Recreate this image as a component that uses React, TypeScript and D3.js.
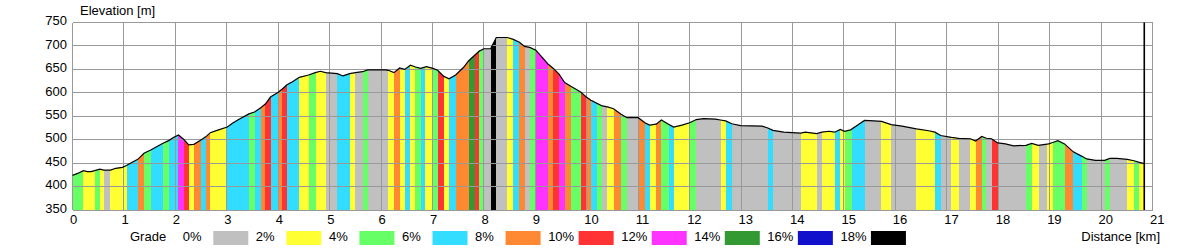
import React from "react";
import * as d3 from "d3";

// Elevation profile (distance in km, elevation in m)
const profileKm = [
  0, 0.1, 0.21, 0.29, 0.36, 0.43, 0.53, 0.61, 0.74, 0.84,
  0.97, 1.05, 1.16, 1.27, 1.39, 1.52, 1.75, 1.87, 1.97, 2.06,
  2.16, 2.26, 2.36, 2.49, 2.59, 2.68, 2.81, 3.01, 3.11, 3.23,
  3.43, 3.54, 3.66, 3.75, 3.85, 4.0, 4.08, 4.17, 4.27, 4.41,
  4.59, 4.72, 4.82, 4.92, 5.15, 5.26, 5.39, 5.5, 5.64, 5.74,
  6.09, 6.14, 6.25, 6.36, 6.46, 6.57, 6.67, 6.77, 6.88, 7.01,
  7.1, 7.22, 7.32, 7.45, 7.61, 7.7, 7.82, 7.91, 8.0, 8.13,
  8.24, 8.45, 8.57, 8.69, 8.79, 8.89, 9.01, 9.24, 9.35, 9.46,
  9.57, 9.69, 9.88, 9.99, 10.08, 10.19, 10.3, 10.4, 10.52, 10.66,
  10.78, 11.0, 11.13, 11.22, 11.35, 11.45, 11.59, 11.69, 11.85, 12.0,
  12.13, 12.27, 12.5, 12.6, 12.7, 12.82, 12.99, 13.41, 13.52, 13.62,
  13.83, 14.16, 14.25, 14.47, 14.57, 14.71, 14.82, 14.93, 15.01, 15.13,
  15.29, 15.4, 15.58, 15.73, 15.92, 16.13, 16.41, 16.65, 16.77, 16.88,
  17.09, 17.23, 17.46, 17.56, 17.68, 17.77, 17.87, 17.99, 18.14, 18.3,
  18.54, 18.65, 18.78, 18.98, 19.06, 19.16, 19.29, 19.46, 19.62, 19.72,
  19.89, 20.07, 20.17, 20.31, 20.51, 20.64, 20.73, 20.84,
];
const profileElev = [
  424, 428, 434, 432, 432, 434, 437, 435, 435, 439,
  441, 445, 452, 458, 471, 478, 492, 498, 505, 510,
  501, 489, 490, 499, 506, 515, 520, 527, 535, 543,
  555, 559, 568, 576, 591, 601, 608, 617, 623, 633,
  638, 643, 646, 643, 641, 636, 641, 643, 645, 649,
  649, 648, 643, 653, 650, 659, 655, 652, 656, 652,
  648, 635, 630, 638, 655, 668, 680, 689, 694, 694,
  718, 718, 714, 708, 699, 697, 691, 662, 652, 640,
  622, 614, 602, 591, 584, 578, 572, 570, 566, 555,
  547, 547, 536, 531, 533, 542, 533, 527, 531, 536,
  543, 545, 544, 542, 540, 534, 530, 529, 525, 520,
  516, 514, 516, 513, 516, 518, 516, 522, 518, 521,
  533, 541, 540, 539, 532, 529, 523, 519, 516, 509,
  505, 503, 502, 497, 507, 503, 502, 493, 491, 487,
  488, 492, 488, 491, 494, 498, 491, 474, 465, 459,
  456, 456, 460, 460, 458, 455, 452, 449,
];

// Grade segments: start km and grade class index
const segStartKm = [
  0, 0.21, 0.43, 0.53, 0.62, 0.72, 1.05, 1.27, 1.39, 1.52,
  1.75, 1.87, 2.06, 2.16, 2.26, 2.37, 2.49, 2.59, 2.68, 3.01,
  3.43, 3.54, 3.66, 3.75, 3.85, 4.0, 4.07, 4.17, 4.41, 4.59,
  4.73, 4.92, 5.15, 5.39, 5.5, 5.64, 5.74, 6.14, 6.26, 6.36,
  6.46, 6.56, 6.65, 6.77, 6.86, 7.01, 7.1, 7.22, 7.32, 7.45,
  7.7, 7.82, 7.91, 8.0, 8.13, 8.24, 8.45, 8.57, 8.69, 8.79,
  8.89, 9.01, 9.24, 9.35, 9.46, 9.57, 9.69, 9.88, 9.99, 10.08,
  10.19, 10.3, 10.4, 10.52, 10.66, 10.78, 11.0, 11.13, 11.22, 11.35,
  11.45, 11.59, 11.69, 12.0, 12.12, 12.6, 12.7, 12.82, 13.52, 13.62,
  14.16, 14.47, 14.57, 14.82, 14.92, 15.02, 15.15, 15.4, 15.73, 15.92,
  16.41, 16.77, 16.88, 17.09, 17.23, 17.46, 17.56, 17.68, 17.77, 17.87,
  17.99, 18.54, 18.65, 18.79, 18.94, 19.06, 19.29, 19.46, 19.62, 19.72,
  20.07, 20.17, 20.51, 20.64, 20.73,
];
const segGrade = [
  2, 1, 2, 1, 0, 1, 3, 4, 2, 3,
  2, 3, 6, 5, 1, 4, 3, 4, 1, 3,
  2, 3, 4, 5, 3, 4, 5, 3, 1, 2,
  1, 0, 3, 1, 0, 2, 0, 1, 4, 1,
  3, 1, 2, 3, 1, 2, 5, 1, 3, 4,
  7, 5, 2, 0, 9, 0, 1, 3, 4, 0,
  2, 6, 4, 5, 6, 4, 2, 5, 4, 3,
  2, 0, 1, 4, 2, 0, 4, 3, 1, 4,
  2, 3, 1, 2, 0, 1, 3, 0, 3, 0,
  1, 0, 1, 3, 1, 2, 3, 0, 1, 0,
  1, 3, 0, 1, 0, 1, 4, 2, 0, 5,
  0, 2, 1, 0, 1, 2, 4, 3, 2, 0,
  2, 0, 1, 2, 1,
];
const routeEndKm = 20.84;
const markerKm = 20.84;

const gradeLabels = ["0%", "2%", "4%", "6%", "8%", "10%", "12%", "14%", "16%", "18%"];
const gradeColors = [
  "#c0c0c0", "#ffff33", "#66ff66", "#33ddff", "#ff8833",
  "#ff3333", "#ff33ff", "#339933", "#1111cc", "#000000",
];
const distanceTicks = [0, 1, 2, 3, 4, 5, 6, 7, 8, 9, 10, 11, 12, 13, 14, 15, 16, 17, 18, 19, 20, 21];
const elevationTicks = [350, 400, 450, 500, 550, 600, 650, 700, 750];

const FONT = "'Liberation Sans', Arial, sans-serif";

export default function App() {
  const x = d3.scaleLinear().domain([0, 21]).range([72.5, 1152.5]);
  const y = d3.scaleLinear().domain([350, 750]).range([210, 22.5]);
  const pts: [number, number][] = profileKm.map((k, i) => [k, profileElev[i]]);
  const area = d3
    .area<[number, number]>()
    .x((d) => x(d[0]))
    .y0(y(350))
    .y1((d) => y(d[1]));
  const line = d3
    .line<[number, number]>()
    .x((d) => x(d[0]))
    .y((d) => y(d[1]));
  const gx = (v: number) => Math.floor(x(v)) + 0.5;
  const gy = (v: number) => Math.floor(y(v)) + 0.5;
  const legendX0 = 213.3;
  const legendStep = 73.07;

  return (
    <svg
      width={1200}
      height={250}
      style={{ position: "absolute", left: 0, top: 0, background: "#fff" }}
      fontFamily={FONT}
      fontSize={13}
    >
      <defs>
        <clipPath id="profileClip">
          <path d={area(pts) || ""} />
        </clipPath>
      </defs>
      <g clipPath="url(#profileClip)">
        {segStartKm.map((s, i) => {
          const e = i < segStartKm.length - 1 ? segStartKm[i + 1] : routeEndKm;
          return (
            <rect
              key={i}
              x={x(s)}
              y={y(750)}
              width={x(e) - x(s)}
              height={y(350) - y(750)}
              fill={gradeColors[segGrade[i]]}
              shapeRendering="crispEdges"
            />
          );
        })}
      </g>
      {/* grid */}
      <g stroke="#999" strokeWidth={1} shapeRendering="crispEdges">
        {distanceTicks.map((t) => (
          <line key={"vx" + t} x1={gx(t)} x2={gx(t)} y1={y(750)} y2={y(350)} />
        ))}
        {elevationTicks.map((t) => (
          <line key={"hy" + t} x1={x(0)} x2={x(21)} y1={gy(t)} y2={gy(t)} />
        ))}
      </g>
      <path d={line(pts) || ""} fill="none" stroke="#000" strokeWidth={1.2} />
      <line
        x1={x(markerKm)}
        x2={x(markerKm)}
        y1={y(750)}
        y2={y(350)}
        stroke="#000"
        strokeWidth={1.6}
      />
      {/* y axis labels */}
      {elevationTicks.map((t) => (
        <text key={"yl" + t} x={67} y={y(t) + 2.7} textAnchor="end" fill="#000">
          {t}
        </text>
      ))}
      <text x={80} y={15} fill="#000">
        Elevation [m]
      </text>
      {/* x axis labels */}
      {distanceTicks.map((t) => (
        <text key={"xl" + t} x={x(t) - 2.5} y={224} fill="#000">
          {t}
        </text>
      ))}
      <text x={1160} y={240.5} textAnchor="end" fill="#000">
        Distance [km]
      </text>
      {/* legend */}
      <text x={130} y={241} fill="#000">
        Grade
      </text>
      {gradeLabels.map((g, i) => {
        const sx = legendX0 + i * legendStep;
        return (
          <g key={"lg" + i}>
            <text x={sx - 30.5} y={241} fill="#000">
              {g}
            </text>
            <rect x={sx} y={231} width={35} height={14} fill={gradeColors[i]} />
          </g>
        );
      })}
    </svg>
  );
}
